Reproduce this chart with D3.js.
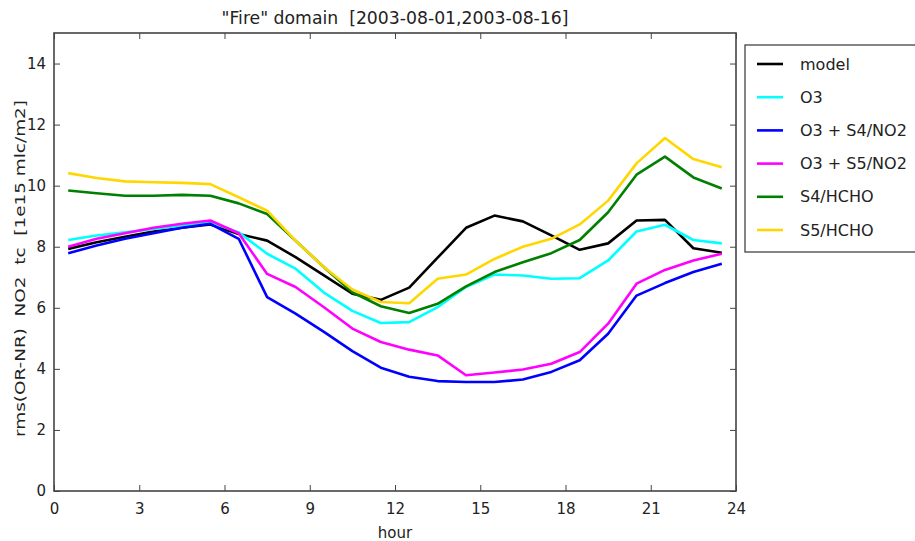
<!DOCTYPE html>
<html>
<head>
<meta charset="utf-8">
<script src="https://cdn.jsdelivr.net/npm/d3@7"></script>
<style>
  html, body { margin: 0; padding: 0; background: #fff; overflow: hidden; }
  svg { display: block; }
  text { font-family: "DejaVu Sans", sans-serif; fill: #222; white-space: pre; }
</style>
</head>
<body>
<svg id="chart" width="915" height="541"></svg>
<script>
const hours = [0.5,1.5,2.5,3.5,4.5,5.5,6.5,7.5,8.5,9.5,10.5,11.5,12.5,13.5,14.5,15.5,16.5,17.5,18.5,19.5,20.5,21.5,22.5,23.5];
const seriesNames = ["model", "O3", "O3 + S4/NO2", "O3 + S5/NO2", "S4/HCHO", "S5/HCHO"];
const model = [7.93,8.15,8.33,8.5,8.62,8.73,8.42,8.2,7.66,7.06,6.46,6.26,6.66,7.64,8.62,9.02,8.83,8.37,7.9,8.11,8.86,8.88,7.95,7.8];
const o3 = [8.22,8.37,8.47,8.58,8.69,8.8,8.47,7.77,7.28,6.5,5.9,5.5,5.53,6.02,6.68,7.09,7.06,6.95,6.97,7.55,8.5,8.72,8.22,8.11];
const o3s4no2 = [7.79,8.04,8.26,8.44,8.62,8.75,8.26,6.35,5.81,5.21,4.58,4.04,3.74,3.6,3.57,3.57,3.65,3.9,4.28,5.15,6.4,6.81,7.17,7.44];
const o3s5no2 = [8.0,8.26,8.44,8.62,8.75,8.86,8.44,7.11,6.68,6.02,5.32,4.88,4.63,4.44,3.79,3.88,3.98,4.17,4.55,5.48,6.79,7.24,7.55,7.77];
const s4hcho = [9.84,9.75,9.67,9.67,9.7,9.67,9.42,9.07,8.2,7.33,6.51,6.05,5.83,6.13,6.7,7.17,7.49,7.79,8.22,9.13,10.36,10.95,10.27,9.91];
const s5hcho = [10.41,10.25,10.14,10.11,10.09,10.05,9.62,9.18,8.2,7.33,6.6,6.19,6.15,6.95,7.09,7.6,8.0,8.26,8.73,9.51,10.73,11.56,10.87,10.6];
const colors = ["#000000", "#00ffff", "#0000ff", "#ff00ff", "#008000", "#ffd700"];
const xTicks = [0,3,6,9,12,15,18,21,24];
const yTicks = [0,2,4,6,8,10,12,14];
const titleText = "\"Fire\" domain  [2003-08-01,2003-08-16]";
const xLabel = "hour";
const yLabel = "rms(OR-NR)  NO2  tc  [1e15 mlc/m2]";

const allSeries = [model, o3, o3s4no2, o3s5no2, s4hcho, s5hcho];

const svg = d3.select("#chart");
const L = 54, R = 736, T = 33, B = 491;
const x = d3.scaleLinear().domain([0, 24]).range([L, R]);
const y = d3.scaleLinear().domain([0, 15]).range([B, T]);

const frameColor = "#444";

// Lines
const line = d3.line().x((d, i) => x(hours[i])).y(d => y(d));
const g = svg.append("g");
allSeries.forEach((s, k) => {
  g.append("path")
    .datum(s)
    .attr("d", line)
    .attr("fill", "none")
    .attr("stroke", colors[k])
    .attr("stroke-width", 2.6)
    .attr("stroke-linejoin", "round");
});

// Axes (inward ticks)
const tickLen = 6;
const xb = svg.append("g").attr("transform", `translate(0,${B})`)
  .call(d3.axisBottom(x).tickValues(xTicks).tickSizeInner(-tickLen).tickSizeOuter(0).tickPadding(12).tickFormat(d3.format("d")));
const xt = svg.append("g").attr("transform", `translate(0,${T})`)
  .call(d3.axisTop(x).tickValues(xTicks).tickSizeInner(-tickLen).tickSizeOuter(0).tickFormat(""));
const yl = svg.append("g").attr("transform", `translate(${L},0)`)
  .call(d3.axisLeft(y).tickValues(yTicks).tickSizeInner(-tickLen).tickSizeOuter(0).tickPadding(8).tickFormat(d3.format("d")));
const yr = svg.append("g").attr("transform", `translate(${R},0)`)
  .call(d3.axisRight(y).tickValues(yTicks).tickSizeInner(-tickLen).tickSizeOuter(0).tickFormat(""));
[xb, xt, yl, yr].forEach(a => {
  a.select(".domain").remove();
  a.selectAll(".tick line").attr("stroke", frameColor).attr("stroke-width", 1);
  a.selectAll(".tick text").attr("fill", "#222").style("font-size", "15px").style("font-family", "DejaVu Sans, sans-serif");
});

// Frame
svg.append("rect").attr("x", L).attr("y", T).attr("width", R - L).attr("height", B - T)
  .attr("fill", "none").attr("stroke", frameColor).attr("stroke-width", 1.6);

// Title
svg.append("text").attr("x", (L + R) / 2).attr("y", 24).attr("text-anchor", "middle")
  .style("font-size", "17px").attr("textLength", 347).attr("lengthAdjust", "spacingAndGlyphs").text(titleText);

// X label
svg.append("text").attr("x", (L + R) / 2).attr("y", 538).attr("text-anchor", "middle")
  .style("font-size", "15px").text(xLabel);

// Y label
svg.append("text").attr("transform", `translate(25,${(100 + 437) / 2}) rotate(-90)`).attr("text-anchor", "middle")
  .style("font-size", "14px").attr("textLength", 337).attr("lengthAdjust", "spacingAndGlyphs").text(yLabel);

// Legend
const lg = svg.append("g");
lg.append("rect").attr("x", 745).attr("y", 45).attr("width", 200).attr("height", 207)
  .attr("fill", "#fff").attr("stroke", frameColor).attr("stroke-width", 1.3);
const legendY = d3.scalePoint().domain(seriesNames).range([64, 230]);
seriesNames.forEach((n, k) => {
  const yy = legendY(n);
  lg.append("line").attr("x1", 757).attr("x2", 783).attr("y1", yy).attr("y2", yy)
    .attr("stroke", colors[k]).attr("stroke-width", 2.6);
  lg.append("text").attr("x", 800).attr("y", yy).attr("dy", "0.35em")
    .style("font-size", "16px").text(n);
});
</script>
</body>
</html>
